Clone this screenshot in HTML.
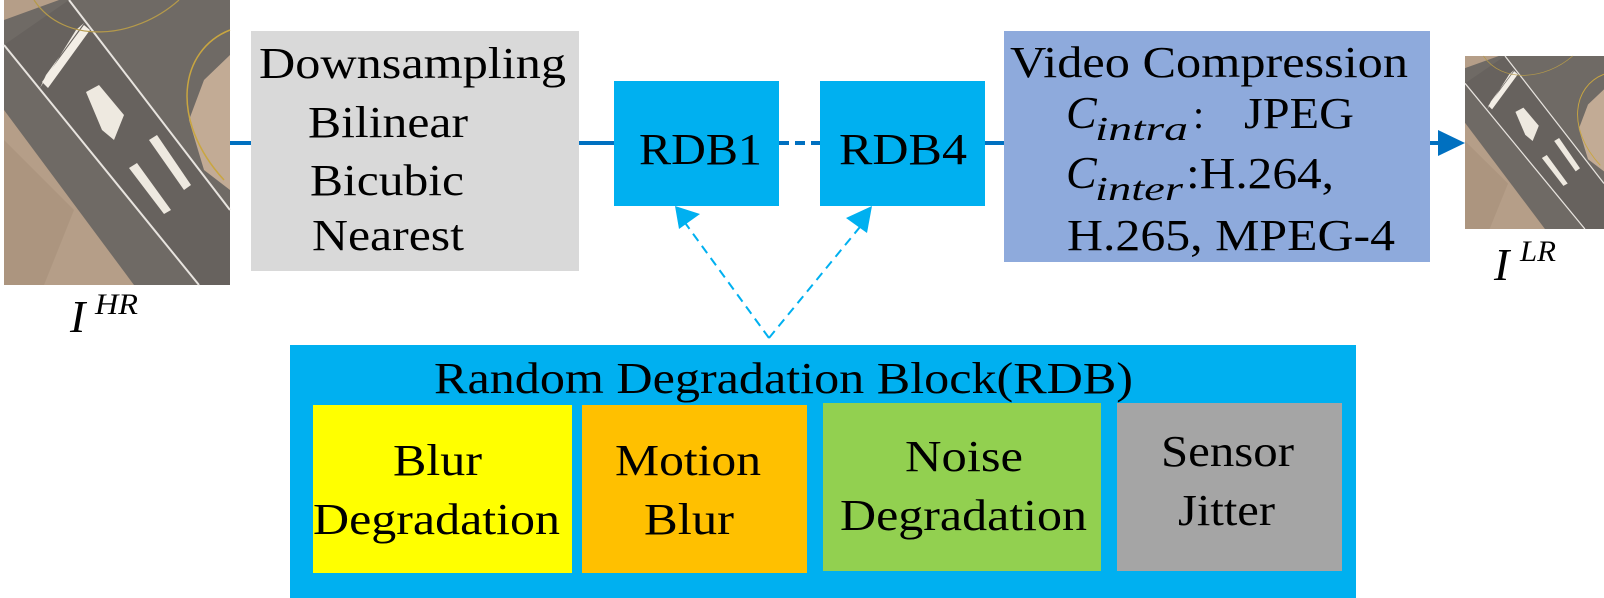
<!DOCTYPE html>
<html><head><meta charset="utf-8"><style>
html,body{margin:0;padding:0;background:#fff;}
svg{display:block;}
text{font-family:"Liberation Serif","Times New Roman",serif;fill:#000;}
</style></head><body>
<svg width="1604" height="598" viewBox="0 0 1604 598" xmlns="http://www.w3.org/2000/svg">
<defs>
<g id="aer">
  <rect x="0" y="0" width="226" height="285" fill="#b59e88"/>
  <polygon points="120,0 226,0 226,130 200,150 150,60" fill="#7a736c"/>
  <polygon points="0,20 55,0 226,0 226,230 195,285 130,285 0,110" fill="#6f6a65"/>
  <polygon points="226,55 226,190 200,170 185,120 200,80" fill="#c2ab95"/>
  <polygon points="0,45 65,0 226,210 226,285 195,285" fill="#67625e"/>
  <line x1="0" y1="45" x2="195" y2="285" stroke="#e8e4df" stroke-width="2"/>
  <line x1="65" y1="0" x2="226" y2="210" stroke="#e8e4df" stroke-width="2"/>
  <polygon points="72,30 80,23 42,75 36,88" fill="#f0ebe3"/>
  <polygon points="38,82 80,25 86,30 44,88" fill="#f3eee6"/>
  <polygon points="82,92 95,85 120,115 110,140 98,130" fill="#eee9e0"/>
  <polygon points="145,140 153,135 187,185 180,190" fill="#eee9e0"/>
  <polygon points="125,168 133,163 167,210 160,214" fill="#eee9e0"/>
  <path d="M 226 30 C 175 50 165 120 220 180" stroke="#c9a640" stroke-width="1.5" fill="none"/>
  <path d="M 30 0 C 60 45 130 40 175 0" stroke="#b59a4a" stroke-width="1.2" fill="none"/>
  <path d="M 0 140 L 70 210 L 40 285 L 0 285 Z" fill="#a69079" opacity="0.6"/>
</g>
</defs>

<g transform="translate(4,0)"><use href="#aer"/></g>
<text x="70" y="332" font-size="46" font-style="italic">I</text>
<text x="95" y="314" font-size="30" font-style="italic" textLength="43" lengthAdjust="spacingAndGlyphs">HR</text>

<line x1="230" y1="143" x2="614" y2="143" stroke="#0070c0" stroke-width="4"/>
<line x1="779" y1="143" x2="820" y2="143" stroke="#0070c0" stroke-width="4" stroke-dasharray="10,6"/>
<line x1="985" y1="143" x2="1440" y2="143" stroke="#0070c0" stroke-width="4"/>
<polygon points="1438,130 1465,143 1438,156" fill="#0070c0"/>

<rect x="251" y="31" width="328" height="240" fill="#d9d9d9"/>
<text x="259" y="78" font-size="44" textLength="307" lengthAdjust="spacingAndGlyphs">Downsampling</text>
<text x="308" y="137" font-size="44" textLength="160" lengthAdjust="spacingAndGlyphs">Bilinear</text>
<text x="310" y="195" font-size="44" textLength="154" lengthAdjust="spacingAndGlyphs">Bicubic</text>
<text x="312" y="250" font-size="44" textLength="152" lengthAdjust="spacingAndGlyphs">Nearest</text>

<rect x="614" y="81" width="165" height="125" fill="#00b0f0"/>
<text x="639" y="164" font-size="44" textLength="123" lengthAdjust="spacingAndGlyphs">RDB1</text>
<rect x="820" y="81" width="165" height="125" fill="#00b0f0"/>
<text x="839" y="164" font-size="44" textLength="128" lengthAdjust="spacingAndGlyphs">RDB4</text>

<line x1="769" y1="338" x2="683" y2="220" stroke="#00b0f0" stroke-width="2" stroke-dasharray="9,6"/>
<line x1="769" y1="338" x2="864" y2="222" stroke="#00b0f0" stroke-width="2" stroke-dasharray="9,6"/>
<polygon points="675,206 700,214 679,229" fill="#00b0f0"/>
<polygon points="872,206 867,233 846,218" fill="#00b0f0"/>

<rect x="1004" y="31" width="426" height="231" fill="#8eaadc"/>
<text x="1010" y="77" font-size="44" textLength="398" lengthAdjust="spacingAndGlyphs">Video Compression</text>
<text x="1066" y="128" font-size="46" font-style="italic">C</text>
<text x="1095" y="140" font-size="34" font-style="italic" textLength="93" lengthAdjust="spacingAndGlyphs">intra</text>
<text x="1193" y="128" font-size="40">:</text>
<text x="1244" y="128" font-size="44" textLength="110" lengthAdjust="spacingAndGlyphs">JPEG</text>
<text x="1066" y="188" font-size="46" font-style="italic">C</text>
<text x="1095" y="200" font-size="34" font-style="italic" textLength="88" lengthAdjust="spacingAndGlyphs">inter</text>
<text x="1186" y="188" font-size="44" textLength="148" lengthAdjust="spacingAndGlyphs">:H.264,</text>
<text x="1067" y="250" font-size="44" textLength="328" lengthAdjust="spacingAndGlyphs">H.265, MPEG-4</text>

<g transform="translate(1465,56) scale(0.615,0.607)"><use href="#aer"/></g>
<text x="1494" y="280" font-size="46" font-style="italic">I</text>
<text x="1520" y="261" font-size="30" font-style="italic" textLength="36" lengthAdjust="spacingAndGlyphs">LR</text>

<rect x="290" y="345" width="1066" height="253" fill="#00b0f0"/>
<text x="434" y="393" font-size="44" textLength="699" lengthAdjust="spacingAndGlyphs">Random Degradation Block(RDB)</text>
<rect x="313" y="405" width="259" height="168" fill="#ffff00"/>
<rect x="582" y="405" width="225" height="168" fill="#ffc000"/>
<rect x="823" y="403" width="278" height="168" fill="#92d050"/>
<rect x="1117" y="403" width="225" height="168" fill="#a5a5a5"/>
<text x="393" y="475" font-size="44" textLength="89" lengthAdjust="spacingAndGlyphs">Blur</text>
<text x="313" y="534" font-size="44" textLength="247" lengthAdjust="spacingAndGlyphs">Degradation</text>
<text x="615" y="475" font-size="44" textLength="146" lengthAdjust="spacingAndGlyphs">Motion</text>
<text x="644" y="534" font-size="44" textLength="90" lengthAdjust="spacingAndGlyphs">Blur</text>
<text x="905" y="471" font-size="44" textLength="118" lengthAdjust="spacingAndGlyphs">Noise</text>
<text x="840" y="530" font-size="44" textLength="247" lengthAdjust="spacingAndGlyphs">Degradation</text>
<text x="1161" y="466" font-size="44" textLength="133" lengthAdjust="spacingAndGlyphs">Sensor</text>
<text x="1178" y="525" font-size="44" textLength="97" lengthAdjust="spacingAndGlyphs">Jitter</text>
</svg>
</body></html>
